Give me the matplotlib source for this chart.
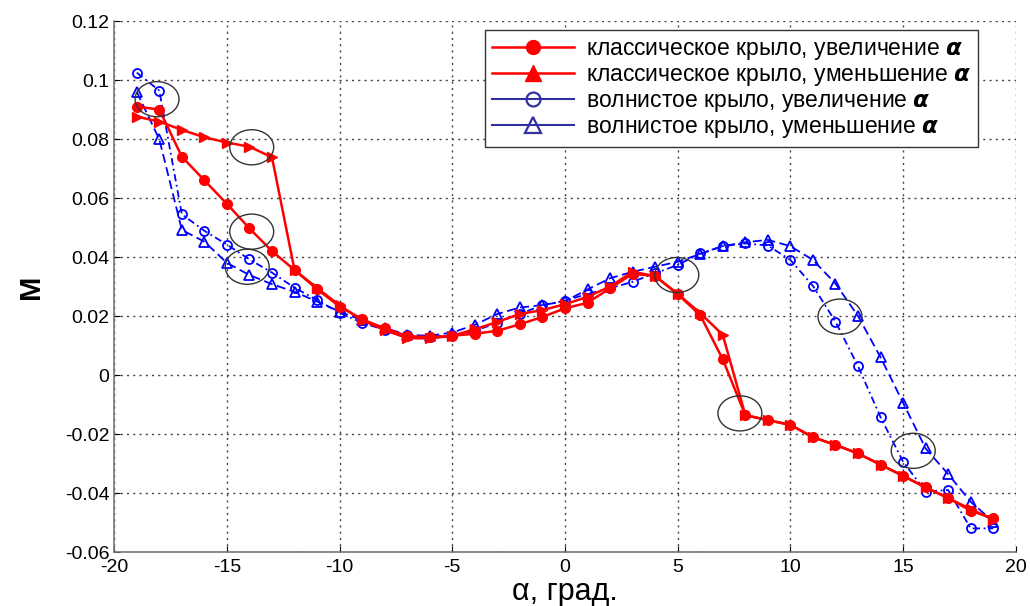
import matplotlib
matplotlib.use("Agg")
import matplotlib.pyplot as plt
from matplotlib.patches import Ellipse
from matplotlib.lines import Line2D

alpha = list(range(-19, 20))

classic_up = [0.091, 0.090, 0.074, 0.066, 0.058, 0.0497, 0.042, 0.0356, 0.0291, 0.0232,
              0.0189, 0.0158, 0.0132, 0.0128, 0.0133, 0.0140, 0.0150, 0.0172, 0.0197, 0.0226,
              0.0245, 0.0294, 0.0343, 0.0336, 0.0274, 0.0203, 0.0053, -0.0136, -0.0153, -0.0169,
              -0.0211, -0.0237, -0.0266, -0.0304, -0.0342, -0.0381, -0.0417, -0.0460, -0.0486]

classic_down = [0.0876, 0.0859, 0.0831, 0.0806, 0.0788, 0.0774, 0.0738, 0.0356, 0.0295, 0.0236,
                0.0186, 0.0152, 0.0125, 0.0124, 0.0133, 0.0155, 0.0180, 0.0207, 0.0220, 0.0240,
                0.0265, 0.0300, 0.0350, 0.0335, 0.0275, 0.0210, 0.0136, -0.0136, -0.0153, -0.0169,
                -0.0211, -0.0237, -0.0266, -0.0304, -0.0342, -0.0381, -0.0417, -0.0455, -0.0490]

wavy_up = [0.1025, 0.0964, 0.0545, 0.0489, 0.0442, 0.0392, 0.0347, 0.0296, 0.0254, 0.0211,
           0.0177, 0.0153, 0.0136, 0.0130, 0.0134, 0.0150, 0.0177, 0.0207, 0.0237, 0.0252,
           0.0275, 0.0294, 0.0316, 0.0345, 0.0373, 0.0412, 0.0437, 0.0446, 0.0439, 0.0390,
           0.0302, 0.0181, 0.0030, -0.0143, -0.0294, -0.0395, -0.0390, -0.0520, -0.0520]

wavy_down = [0.0960, 0.0799, 0.0492, 0.0452, 0.0380, 0.0339, 0.0308, 0.0282, 0.0249, 0.0215,
             0.0186, 0.0160, 0.0136, 0.0133, 0.0144, 0.0170, 0.0207, 0.0229, 0.0237, 0.0250,
             0.0290, 0.0328, 0.0350, 0.0367, 0.0384, 0.0410, 0.0437, 0.0450, 0.0458, 0.0437,
             0.0390, 0.0310, 0.0200, 0.0060, -0.0094, -0.0249, -0.0336, -0.0430, -0.0497]

circle_x = [-18.1, -13.9, -13.9, -14.1, 4.96, 7.76, 12.2, 15.45]
circle_y = [0.0935, 0.0772, 0.0486, 0.0367, 0.0339, -0.0130, 0.0198, -0.0257]

legend_labels = ["классическое крыло, увеличение $\\boldsymbol{\\alpha}$",
                 "классическое крыло, уменьшение $\\boldsymbol{\\alpha}$",
                 "волнистое крыло, увеличение $\\boldsymbol{\\alpha}$",
                 "волнистое крыло, уменьшение $\\boldsymbol{\\alpha}$"]

xticks = list(range(-20, 21, 5))
yticks = [-0.06, -0.04, -0.02, 0, 0.02, 0.04, 0.06, 0.08, 0.1, 0.12]
yticklabels = ["-0.06", "-0.04", "-0.02", "0", "0.02", "0.04", "0.06", "0.08", "0.1", "0.12"]

plt.rcParams['font.family'] = ['Liberation Sans', 'DejaVu Sans']
plt.rcParams['mathtext.fontset'] = 'dejavusans'

fig = plt.figure(figsize=(10.30, 6.06), dpi=100)
ax = fig.add_axes([0.1109, 0.0891, 0.8753, 0.8762])

red = '#ff0000'
blue = '#0000ff'
legblue = '#3030a0'

ax.plot(alpha, classic_up, '-', color=red, lw=1.8, marker='o', ms=7, mfc=red, mec=red, zorder=4)
ax.plot(alpha, classic_down, '-', color=red, lw=1.8, marker='>', ms=7.5, mfc=red, mec=red, zorder=4)
ax.plot(alpha, wavy_up, linestyle=(0, (4, 2, 1, 2)), color=blue, lw=1.3, marker='o', ms=6.5,
        mfc='none', mec=blue, mew=1.3, zorder=3)
ax.plot(alpha, wavy_down, linestyle=(0, (5, 2.5)), color=blue, lw=1.3, marker='^', ms=7.5,
        mfc='none', mec=blue, mew=1.3, zorder=3)

for cx, cy in zip(circle_x, circle_y):
    ax.add_patch(Ellipse((cx, cy), width=1.95, height=0.0119, fill=False,
                         edgecolor='#333333', lw=1.0, zorder=5))

ax.set_xlim(-20, 20)
ax.set_ylim(-0.06, 0.12)
ax.set_xticks(xticks)
ax.set_xticklabels([str(t) for t in xticks])
ax.set_yticks(yticks)
ax.set_yticklabels(yticklabels)
ax.tick_params(direction='in', length=4, labelsize=14, colors='black', width=0.8)
ax.tick_params(axis='x', pad=5)
ax.tick_params(top=False, right=False)
ax.grid(True, linestyle=(0, (1.5, 3)), color='#444444', lw=1.0)
ax.set_axisbelow(True)
for s in ['top', 'right']:
    ax.spines[s].set_visible(False)
for s in ['left', 'bottom']:
    ax.spines[s].set_color('#777777')
    ax.spines[s].set_linewidth(1.2)

ax.set_xlabel('α, град.', fontsize=22, labelpad=1)
ax.set_ylabel('M', fontsize=21, fontweight='bold', labelpad=14)

handles = [
    Line2D([], [], color=red, lw=1.8, marker='o', ms=10, mfc=red, mec=red),
    Line2D([], [], color=red, lw=1.8, marker='^', ms=11, mfc=red, mec=red),
    Line2D([], [], color=legblue, lw=1.5, marker='o', ms=10, mfc='none', mec=legblue, mew=1.6),
    Line2D([], [], color=legblue, lw=1.5, marker='^', ms=11, mfc='none', mec=legblue, mew=1.6),
]
leg = ax.legend(handles, legend_labels, loc='upper right', bbox_to_anchor=(0.958, 0.983),
                borderaxespad=0, fontsize=16.5, frameon=True, fancybox=False,
                handlelength=3.6, handletextpad=0.5, labelspacing=0.05, borderpad=0.3)
leg.get_frame().set_edgecolor('#333333')
leg.get_frame().set_linewidth(1.0)
leg.get_frame().set_alpha(1)

fig.savefig('out.png', dpi=100)
